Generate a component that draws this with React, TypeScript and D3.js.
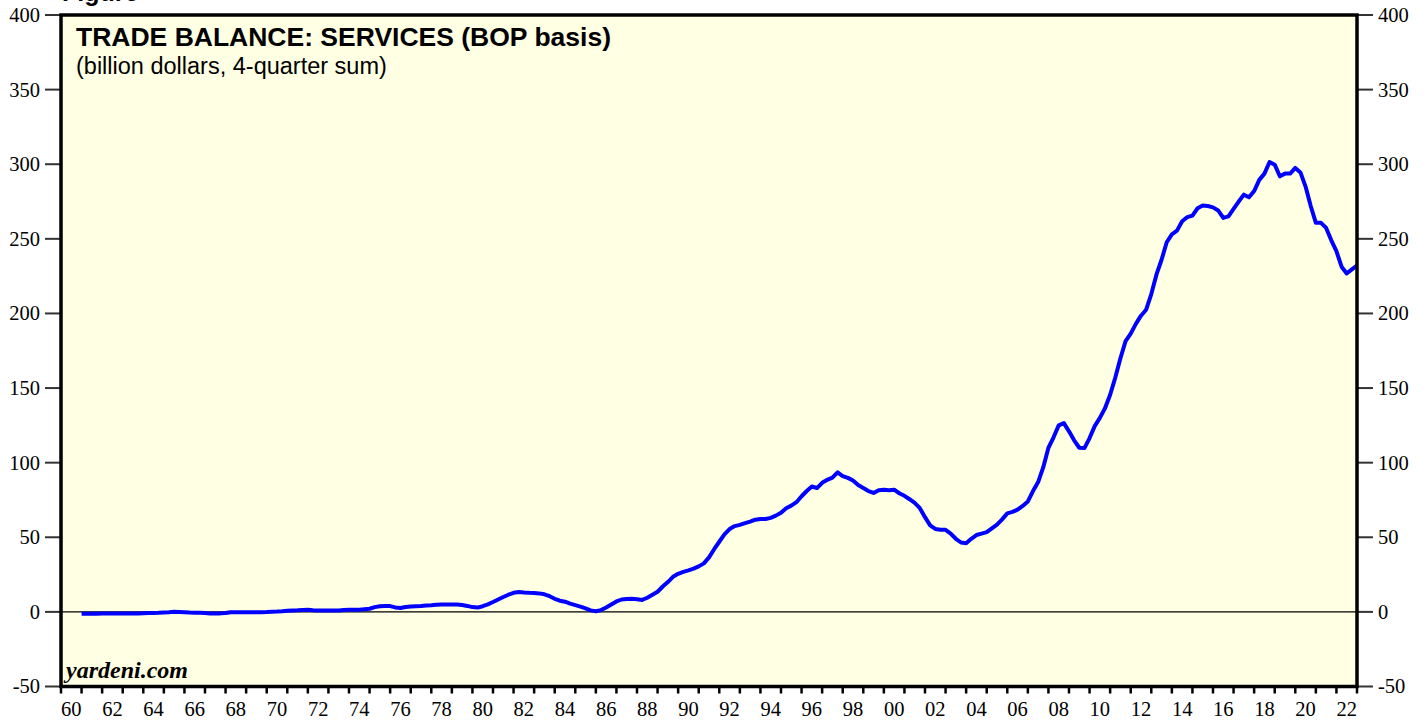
import React from "react";
import * as d3 from "d3";

// Quarterly 4-quarter sums, first value = 1960 Q4, plotted at quarter end
const firstYear = 1960;
const firstQuarter = 4;
const serviceBalance: number[] = [
  -1.3, -1.3, -1.2, -1.2,
  -1.1, -1.1, -1.0, -1.0,
  -1.0, -1.0, -1.0, -1.0,
  -0.9, -0.8, -0.7, -0.6,
  -0.4, -0.2, 0.1, 0.0,
  -0.2, -0.4, -0.5, -0.6,
  -0.8, -1.1, -1.1, -1.0,
  -0.7, -0.2, -0.2, -0.3,
  -0.3, -0.3, -0.2, -0.2,
  -0.1, 0.1, 0.2, 0.4,
  0.7, 1.0, 1.1, 1.3,
  1.4, 1.1, 0.9, 0.9,
  1.0, 1.0, 1.0, 1.3,
  1.5, 1.4, 1.5, 1.8,
  2.1, 3.2, 3.8, 3.9,
  3.9, 3.0, 2.6, 3.3,
  3.6, 3.8, 4.0, 4.3,
  4.5, 4.8, 5.0, 5.0,
  5.0, 5.0, 4.6, 4.0,
  3.2, 2.9, 3.8, 5.0,
  6.6, 8.3, 10.0, 11.5,
  12.8, 13.3, 13.0, 12.8,
  12.7, 12.4, 11.8, 10.5,
  8.8, 7.5, 6.8, 5.5,
  4.5, 3.5, 2.3, 1.0,
  0.4, 1.2, 3.0, 5.0,
  7.0, 8.3, 8.6, 8.8,
  8.4, 8.0, 9.5, 11.5,
  13.5, 17.0, 20.0, 23.5,
  25.5, 26.8, 27.8, 29.0,
  30.5, 32.5, 36.5, 42.0,
  47.0, 52.0, 55.5, 57.5,
  58.3, 59.5, 60.5, 61.8,
  62.3, 62.3, 63.0, 64.5,
  66.5, 69.5, 71.2, 73.5,
  77.5, 81.0, 84.0, 83.0,
  86.5, 88.5, 90.0, 93.5,
  91.0, 89.8, 88.0, 85.0,
  83.0, 81.0, 79.7, 81.5,
  81.8, 81.5, 81.9, 79.5,
  77.8, 75.5, 73.0, 69.5,
  63.5, 58.0, 55.6, 55.0,
  55.0, 52.5, 49.0, 46.5,
  46.0, 49.0, 51.5, 52.5,
  53.5, 56.0, 58.5, 62.0,
  66.0, 67.0, 68.5, 71.0,
  74.0, 81.0, 87.0, 97.0,
  110.0, 117.0, 125.0, 126.5,
  121.0, 115.0, 110.0, 109.8,
  116.5, 124.5, 130.0, 136.5,
  145.5, 157.0, 170.0, 181.5,
  186.5, 193.0, 198.5, 202.5,
  213.0, 226.0, 236.0, 247.7,
  253.0, 255.5, 261.8, 264.5,
  265.6, 270.5, 272.3, 272.0,
  271.1, 269.0, 264.0, 265.0,
  270.0, 275.0, 279.6, 277.8,
  282.0, 289.5, 293.7, 301.5,
  299.7, 291.9, 293.7, 293.7,
  297.5, 294.5, 285.0, 272.0,
  260.7, 260.7, 257.3, 249.0,
  241.7, 231.3, 226.8, 229.5,
  232.1,
];

const yTicks = [-50, 0, 50, 100, 150, 200, 250, 300, 350, 400];
const xLabelYears = d3.range(1960, 2023, 2);
const xTickYears = d3.range(1960, 2024, 1);

const title = "TRADE BALANCE: SERVICES (BOP basis)";
const subtitle = "(billion dollars, 4-quarter sum)";
const source = "yardeni.com";

export default function App() {
  const W = 1427;
  const H = 721;
  const left = 61;
  const right = 1357;
  const top = 15;
  const bottom = 686.5;

  const x = d3.scaleLinear().domain([1960, 2023]).range([left, right]);
  const y = d3.scaleLinear().domain([-50, 400]).range([bottom, top]);

  const pts: [number, number][] = serviceBalance.map((v, i) => [
    firstYear + (firstQuarter + i) / 4,
    v,
  ]);
  const line = d3
    .line<[number, number]>()
    .x((d) => x(d[0]))
    .y((d) => y(d[1]));

  const serif = "'Liberation Serif', 'Times New Roman', serif";
  const sans = "'Liberation Sans', Arial, sans-serif";

  return (
    <svg
      width={W}
      height={H}
      style={{ position: "absolute", left: 0, top: 0 }}
    >
      <rect x={0} y={0} width={W} height={H} fill="#ffffff" />
      <defs>
        <clipPath id="plotclip">
          <rect x={left} y={top} width={right - left} height={bottom - top} />
        </clipPath>
      </defs>
      <rect
        x={left}
        y={top}
        width={right - left}
        height={bottom - top}
        fill="#FFFFE3"
      />
      {/* cut-off figure label (clipped at top edge in the original) */}
      <text x={62} y={1} fontFamily={sans} fontWeight="bold" fontSize={25} fill="#000">
        Figure
      </text>
      {/* zero line */}
      <line x1={left} x2={right} y1={y(0)} y2={y(0)} stroke="#000" strokeWidth={1.3} />
      {/* y ticks */}
      {yTicks.map((t) => (
        <g key={t}>
          <line x1={left - 16} x2={left} y1={y(t)} y2={y(t)} stroke="#333" strokeWidth={2} />
          <line x1={right} x2={right + 16} y1={y(t)} y2={y(t)} stroke="#333" strokeWidth={2} />
          <text
            x={left - 21}
            y={y(t)}
            dy="0.34em"
            textAnchor="end"
            fontFamily={serif}
            fontSize={20.5}
            fill="#000"
          >
            {t}
          </text>
          <text
            x={right + 21}
            y={y(t)}
            dy="0.34em"
            textAnchor="start"
            fontFamily={serif}
            fontSize={20.5}
            fill="#000"
          >
            {t}
          </text>
        </g>
      ))}
      {/* x ticks */}
      {xTickYears.map((yr) => (
        <line
          key={yr}
          x1={x(yr)}
          x2={x(yr)}
          y1={bottom}
          y2={bottom + 7}
          stroke="#000"
          strokeWidth={2.5}
        />
      ))}
      {xLabelYears.map((yr) => (
        <text
          key={yr}
          x={x(yr + 0.5)}
          y={716}
          textAnchor="middle"
          fontFamily={serif}
          fontSize={20.5}
          fill="#000"
        >
          {String(yr % 100).padStart(2, "0")}
        </text>
      ))}
      {/* data line */}
      <path
        d={line(pts) || ""}
        fill="none"
        stroke="#0000FF"
        strokeWidth={4}
        strokeLinejoin="round"
        clipPath="url(#plotclip)"
      />
      {/* frame */}
      <rect
        x={left}
        y={top}
        width={right - left}
        height={bottom - top}
        fill="none"
        stroke="#000"
        strokeWidth={3.5}
      />
      <text x={76} y={46} fontFamily={sans} fontWeight="bold" fontSize={26.5} fill="#000">
        {title}
      </text>
      <text x={76} y={74} fontFamily={sans} fontSize={23.5} fill="#000">
        {subtitle}
      </text>
      <text
        x={66}
        y={678}
        fontFamily={serif}
        fontWeight="bold"
        fontStyle="italic"
        fontSize={24}
        fill="#000"
      >
        {source}
      </text>
    </svg>
  );
}
